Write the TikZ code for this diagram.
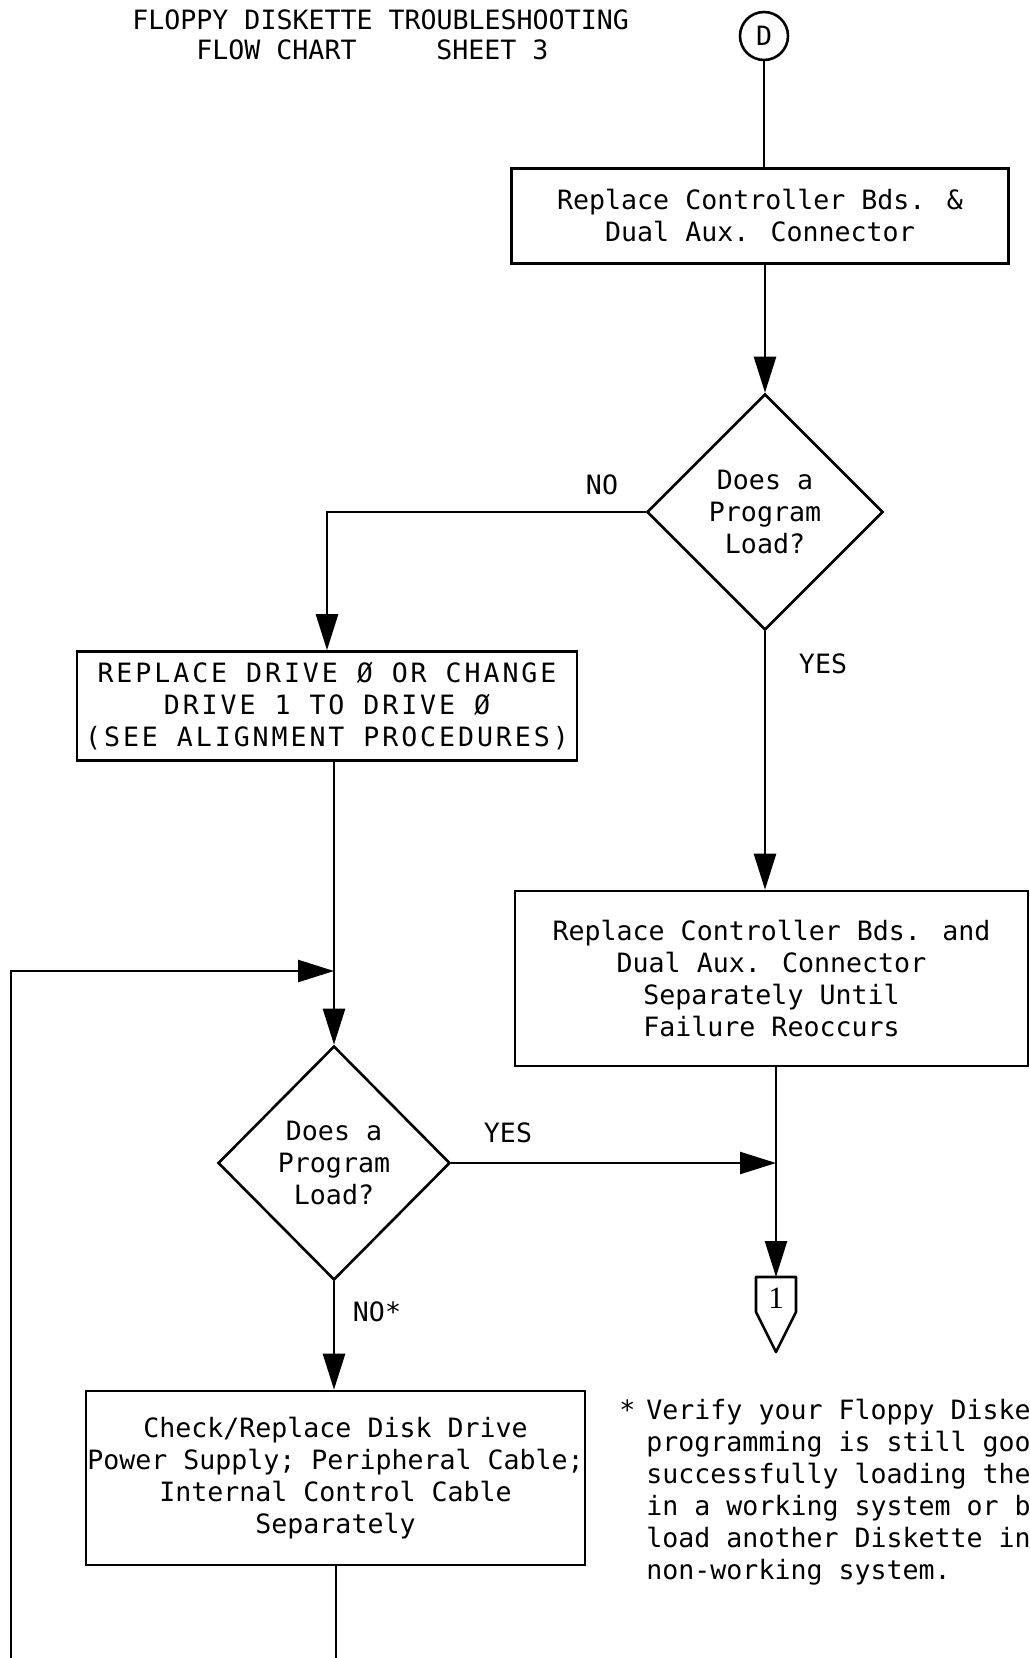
\documentclass[tikz,border=0pt]{standalone}
\usepackage{fontspec}
\newfontfamily\tw{DejaVu Sans Mono}
\newfontfamily\twsp[LetterSpace=11]{DejaVu Sans Mono}
\newfontfamily\onefont{Liberation Serif}
\usetikzlibrary{shapes.geometric,arrows.meta}
\begin{document}
\begin{tikzpicture}[x=0.5pt,y=-0.5pt,
  every node/.style={font=\tw\fontsize{13.3}{16}\selectfont},
  box/.style={draw,line width=1.3pt,rectangle,inner sep=0pt,align=center},
  dia/.style={draw,line width=1.3pt,diamond,inner sep=0pt,align=center},
  lbl/.style={inner sep=0pt},
  conn/.style={line width=1.3pt},
  arr/.style={conn,-{Triangle[length=18pt,width=11pt]}},
]
\useasboundingbox (0,0) rectangle (1029,1658);

% title
\node[lbl,anchor=base west] (t1) at (132,30) {FLOPPY DISKETTE TROUBLESHOOTING};
\node[lbl,anchor=base west] (t2) at (196,60) {FLOW CHART};
\node[lbl,anchor=base west] (t3) at (436,60) {SHEET 3};

% nodes
\node[draw,circle,line width=1.3pt,minimum size=24pt,inner sep=0pt] (D) at (764,36) {D};
\node[box,minimum width=248.5pt,minimum height=47.5pt] (b1) at (760,216)
  {Replace Controller Bds. \&\\Dual Aux. Connector};
\node[dia,minimum width=118pt,minimum height=118pt] (q1) at (765,512)
  {Does a\\Program\\Load?};
\node[box,minimum width=250pt,minimum height=54.5pt,font=\twsp\fontsize{13.3}{16}\selectfont] (b2) at (327,706)
  {REPLACE DRIVE Ø OR CHANGE\\DRIVE 1 TO DRIVE Ø\\(SEE ALIGNMENT PROCEDURES)};
\node[box,minimum width=256.5pt,minimum height=87.5pt] (b3) at (771.5,978.5)
  {Replace Controller Bds. and\\Dual Aux. Connector\\Separately Until\\Failure Reoccurs};
\node[dia,minimum width=116pt,minimum height=117pt] (q2) at (334,1163)
  {Does a\\Program\\Load?};
\node[box,minimum width=249.5pt,minimum height=87pt] (b4) at (335.5,1478)
  {Check/Replace Disk Drive\\Power Supply; Peripheral Cable;\\Internal Control Cable\\Separately};

% off-page connector 1
\coordinate (c1) at (776,1277);
\draw[conn,line join=round] ([shift={(-20,0)}]c1) -- ([shift={(20,0)}]c1) -- ([shift={(20,35)}]c1)
  -- ([shift={(0,75)}]c1) -- ([shift={(-20,35)}]c1) -- cycle;
\node[lbl,font=\onefont\fontsize{15.5}{16}\selectfont] (one) at (776,1298) {1};

% helper coordinates
\coordinate (jn) at (334,971);
\coordinate (jy) at (776,1163);
\coordinate (lb) at (11,1658);
\coordinate (bb) at (336,1658);

% connectors
\draw[conn] (D) -- (D.south |- b1.north);
\draw[arr] (b1.south -| q1.north) -- (q1.north);
\draw[arr] (q1.west) -| (b2.north);
\draw[arr] (q1.south) -- (q1.south |- b3.north);
\draw[arr] (b2.south -| q2.north) -- (q2.north);
\draw[arr] (lb) |- (jn);
\draw[arr] (q2.east) -- (jy);
\draw[arr] (b3.south -| c1) -- (c1);
\draw[arr] (q2.south) -- (q2.south |- b4.north);
\draw[conn] (b4.south -| bb) -- (bb);

% labels
\node[lbl] (no1) at (602,485) {NO};
\node[lbl] (yes1) at (823,664) {YES};
\node[lbl] (yes2) at (508,1133) {YES};
\node[lbl] (no2) at (377,1312) {NO*};

% footnote
\node[lbl,anchor=base west] (ast) at (619,1419) {*};
\node[lbl,anchor=base west] (f1) at (646,1419) {Verify your Floppy Diske};
\node[lbl,anchor=base west] (f2) at (646,1451) {programming is still goo};
\node[lbl,anchor=base west] (f3) at (646,1483) {successfully loading the};
\node[lbl,anchor=base west] (f4) at (646,1515) {in a working system or b};
\node[lbl,anchor=base west] (f5) at (646,1547) {load another Diskette in};
\node[lbl,anchor=base west] (f6) at (646,1579) {non-working system.};
\end{tikzpicture}
\end{document}
